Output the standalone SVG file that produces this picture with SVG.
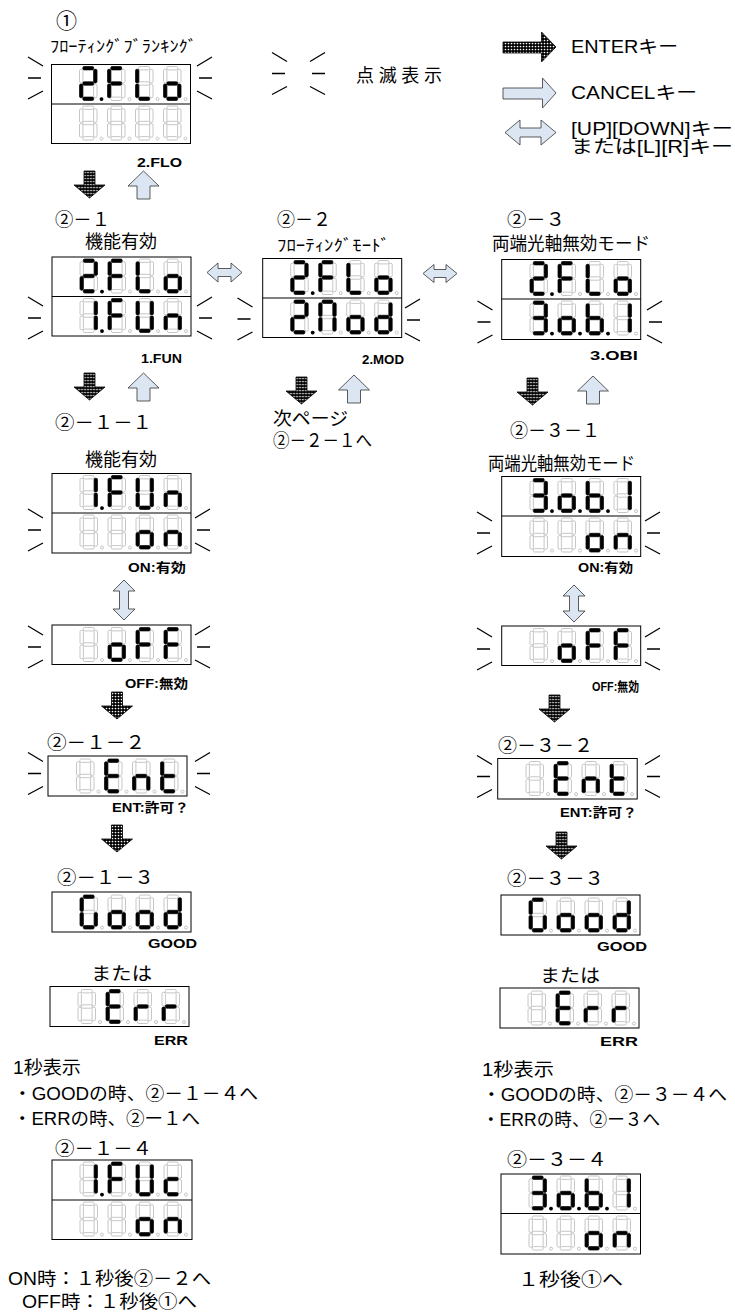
<svg xmlns="http://www.w3.org/2000/svg" xmlns:xlink="http://www.w3.org/1999/xlink" width="735" height="1313" viewBox="0 0 735 1313">
<style>
text{font-family:"Liberation Sans","Noto Sans CJK JP",sans-serif;fill:#000}
.j{font-size:18px}
.s{font-size:13px;font-weight:bold}
.bx{fill:#fff;stroke:#000;stroke-width:1}
.dv{stroke:#000;stroke-width:1}
.lt{fill:#dce6f2;stroke:#333;stroke-width:0.8}
</style>
<defs>
<pattern id="dots" width="3" height="3" patternUnits="userSpaceOnUse"><rect width="3" height="3" fill="#000"/><circle cx="1.5" cy="1.5" r="0.85" fill="#fff"/></pattern>
<rect id="sa" x="3.3" y="0" width="10.9" height="3.4" rx="1.4"/>
<rect id="sb" x="14.1" y="2.8" width="3.4" height="13.6" rx="1.4"/>
<rect id="sc" x="14.1" y="17.6" width="3.4" height="13.6" rx="1.4"/>
<rect id="sd" x="3.3" y="30.6" width="10.9" height="3.4" rx="1.4"/>
<rect id="se" x="0" y="17.6" width="3.4" height="13.6" rx="1.4"/>
<rect id="sf" x="0" y="2.8" width="3.4" height="13.6" rx="1.4"/>
<rect id="sg" x="3.3" y="15.3" width="10.9" height="3.4" rx="1.4"/>
<circle id="sp" cx="22" cy="32.6" r="1.5"/>
<g id="d8" fill="#fff" stroke="#b8b8b8" stroke-width="0.8"><use href="#sa"/><use href="#sb"/><use href="#sc"/><use href="#sd"/><use href="#se"/><use href="#sf"/><use href="#sg"/><use href="#sp"/></g>
<g id="row"><use href="#d8"/><use href="#d8" x="28"/><use href="#d8" x="56"/><use href="#d8" x="84"/></g>
<g id="c2" fill="#000" stroke="#000" stroke-width="0.6"><use href="#sa"/><use href="#sb"/><use href="#sg"/><use href="#se"/><use href="#sd"/></g>
<g id="cF" fill="#000" stroke="#000" stroke-width="0.6"><use href="#sa"/><use href="#sf"/><use href="#sg"/><use href="#se"/></g>
<g id="cL" fill="#000" stroke="#000" stroke-width="0.6"><use href="#sf"/><use href="#se"/><use href="#sd"/></g>
<g id="co" fill="#000" stroke="#000" stroke-width="0.6"><use href="#sg"/><use href="#se"/><use href="#sd"/><use href="#sc"/></g>
<g id="c1" fill="#000" stroke="#000" stroke-width="0.6"><use href="#sb"/><use href="#sc"/></g>
<g id="cU" fill="#000" stroke="#000" stroke-width="0.6"><use href="#sf"/><use href="#se"/><use href="#sd"/><use href="#sc"/><use href="#sb"/></g>
<g id="cn" fill="#000" stroke="#000" stroke-width="0.6"><use href="#sg"/><use href="#se"/><use href="#sc"/></g>
<g id="cN" fill="#000" stroke="#000" stroke-width="0.6"><use href="#sa"/><use href="#sf"/><use href="#sb"/><use href="#se"/><use href="#sc"/></g>
<g id="cd" fill="#000" stroke="#000" stroke-width="0.6"><use href="#sb"/><use href="#sc"/><use href="#sd"/><use href="#se"/><use href="#sg"/></g>
<g id="c3" fill="#000" stroke="#000" stroke-width="0.6"><use href="#sa"/><use href="#sb"/><use href="#sg"/><use href="#sc"/><use href="#sd"/></g>
<g id="cb" fill="#000" stroke="#000" stroke-width="0.6"><use href="#sf"/><use href="#se"/><use href="#sd"/><use href="#sc"/><use href="#sg"/></g>
<g id="cE" fill="#000" stroke="#000" stroke-width="0.6"><use href="#sa"/><use href="#sf"/><use href="#sg"/><use href="#se"/><use href="#sd"/></g>
<g id="ct" fill="#000" stroke="#000" stroke-width="0.6"><use href="#sf"/><use href="#se"/><use href="#sd"/><use href="#sg"/></g>
<g id="cG" fill="#000" stroke="#000" stroke-width="0.6"><use href="#sa"/><use href="#sf"/><use href="#se"/><use href="#sd"/><use href="#sc"/></g>
<g id="cr" fill="#000" stroke="#000" stroke-width="0.6"><use href="#se"/><use href="#sg"/></g>
<g id="cc" fill="#000" stroke="#000" stroke-width="0.6"><use href="#sg"/><use href="#se"/><use href="#sd"/></g>
<circle id="dp" cx="22" cy="32.6" r="1.9" fill="#000"/>
<g id="rFLo"><use href="#row"/><use href="#c2"/><use href="#dp"/><use href="#cF" x="28"/><use href="#cL" x="56"/><use href="#co" x="84"/></g>
<g id="rFUn"><use href="#row"/><use href="#c1"/><use href="#dp"/><use href="#cF" x="28"/><use href="#cU" x="56"/><use href="#cn" x="84"/></g>
<g id="rObI"><use href="#row"/><use href="#c3"/><use href="#dp"/><use href="#co" x="28"/><use href="#dp" x="28"/><use href="#cb" x="56"/><use href="#dp" x="56"/><use href="#c1" x="84"/></g>
<g id="ron"><use href="#row"/><use href="#co" x="56"/><use href="#cn" x="84"/></g>
<g id="roFF"><use href="#row"/><use href="#co" x="28"/><use href="#cF" x="56"/><use href="#cF" x="84"/></g>
<g id="rEnt"><use href="#row"/><use href="#cE" x="28"/><use href="#cn" x="56"/><use href="#ct" x="84"/></g>
<g id="rGood"><use href="#row"/><use href="#cG"/><use href="#co" x="28"/><use href="#co" x="56"/><use href="#cd" x="84"/></g>
<g id="rErr"><use href="#row"/><use href="#cE" x="28"/><use href="#cr" x="56"/><use href="#cr" x="84"/></g>
<path id="bl" d="M0,-21 L15,-12 M0,0 H13 M0,21 L15,13" fill="none" stroke="#000" stroke-width="1.3"/>
<path id="br" d="M0,-12 L15,-21 M2,0 H15 M0,13 L15,21" fill="none" stroke="#000" stroke-width="1.3"/>
<path id="dn" d="M-5.5,0 H5.5 V14 H15.5 L0,27 L-15.5,14 H-5.5 Z" fill="url(#dots)" stroke="#000" stroke-width="0.8"/>
<path id="up" d="M0,0 L15.5,15 H6.5 V28 H-6.5 V15 H-15.5 Z" class="lt"/>
</defs>
<rect width="735" height="1313" fill="#fff"/>

<g id="legend">
<use href="#bl" x="272" y="73.5"/><use href="#br" x="310" y="73.5"/>
<text x="356" y="82" class="j" textLength="86" lengthAdjust="spacing">点滅表示</text>
<path d="M503,42 H541.5 V32 L556,47 L541.5,62 V53 H503 Z" fill="url(#dots)" stroke="#000" stroke-width="0.8"/>
<path d="M503,88 H542.5 V78 L556,93 L542.5,108 V99 H503 Z" class="lt"/>
<path d="M505,132.5 L520,120 V128 H541 V120 L556,132.5 L541,145 V137 H520 V145 Z" class="lt"/>
<text x="571" y="53" class="j" textLength="107" lengthAdjust="spacingAndGlyphs">ENTERキー</text>
<text x="571" y="99" class="j" textLength="126" lengthAdjust="spacingAndGlyphs">CANCELキー</text>
<text x="571" y="135" class="j" textLength="162" lengthAdjust="spacingAndGlyphs">[UP][DOWN]キー</text>
<text x="571" y="153" class="j" textLength="162" lengthAdjust="spacingAndGlyphs">または[L][R]キー</text>
</g>

<g id="n1">
<text x="56" y="28" font-size="21">①</text>
<text x="50" y="52" font-size="16" textLength="147" lengthAdjust="spacingAndGlyphs">ﾌﾛｰﾃｨﾝｸﾞﾌﾞﾗﾝｷﾝｸﾞ</text>
<rect class="bx" x="51.5" y="64.5" width="139" height="79"/><line class="dv" x1="51.5" y1="104" x2="190.5" y2="104"/>
<use href="#rFLo" x="79.5" y="66.5"/><use href="#row" x="79.5" y="106"/>
<use href="#bl" x="28" y="78"/><use href="#br" x="197" y="78"/>
<text x="137" y="167" class="s" textLength="45" lengthAdjust="spacingAndGlyphs">2.FLO</text>
</g>

<g id="n2-1">
<text x="55" y="226" class="j" textLength="55" lengthAdjust="spacingAndGlyphs">②－１</text>
<text x="85" y="248" class="j" textLength="72" lengthAdjust="spacingAndGlyphs">機能有効</text>
<rect class="bx" x="52" y="257" width="139" height="79"/><line class="dv" x1="52" y1="296.5" x2="191" y2="296.5"/>
<use href="#rFLo" x="80" y="259"/><use href="#rFUn" x="80" y="298.5"/>
<use href="#bl" x="28" y="318"/><use href="#br" x="197" y="318"/>
<text x="141" y="363" class="s" textLength="41" lengthAdjust="spacingAndGlyphs">1.FUN</text>
</g>

<g id="n2-2">
<text x="277" y="226" class="j" textLength="54" lengthAdjust="spacingAndGlyphs">②－２</text>
<text x="277" y="251" font-size="16" textLength="113" lengthAdjust="spacingAndGlyphs">ﾌﾛｰﾃｨﾝｸﾞﾓｰﾄﾞ</text>
<rect class="bx" x="262.7" y="258.5" width="139" height="79"/><line class="dv" x1="262.7" y1="298" x2="401.7" y2="298"/>
<use href="#rFLo" x="290.7" y="260.5"/>
<g transform="translate(290.7,300)"><use href="#row"/><use href="#c2"/><use href="#dp"/><use href="#cN" x="28"/><use href="#co" x="56"/><use href="#cd" x="84"/></g>
<use href="#bl" x="237.5" y="319"/><use href="#br" x="405" y="320"/>
<text x="362" y="364" class="s" textLength="42" lengthAdjust="spacingAndGlyphs">2.MOD</text>
<text x="273" y="425" class="j" textLength="75" lengthAdjust="spacingAndGlyphs">次ページ</text>
<text x="273" y="447" class="j" textLength="99" lengthAdjust="spacingAndGlyphs">②－２－１へ</text>
</g>

<g id="n2-3">
<text x="507" y="226" class="j" textLength="58" lengthAdjust="spacingAndGlyphs">②－３</text>
<text x="492" y="250" class="j" textLength="158" lengthAdjust="spacingAndGlyphs">両端光軸無効モード</text>
<rect class="bx" x="501.7" y="259.5" width="139" height="80"/><line class="dv" x1="501.7" y1="299" x2="640.7" y2="299"/>
<use href="#rFLo" x="530" y="261.5"/><use href="#rObI" x="530" y="301"/>
<use href="#bl" x="477.5" y="322"/><use href="#br" x="647" y="322"/>
<text x="590" y="360" class="s" textLength="48" lengthAdjust="spacingAndGlyphs">3.OBI</text>
</g>

<g id="n2-1-1">
<text x="55" y="429" class="j" textLength="97" lengthAdjust="spacingAndGlyphs">②－１－１</text>
<text x="85" y="466" class="j" textLength="72" lengthAdjust="spacingAndGlyphs">機能有効</text>
<rect class="bx" x="52" y="473.5" width="139" height="79.5"/><line class="dv" x1="52" y1="513" x2="191" y2="513"/>
<use href="#rFUn" x="80" y="475.5"/><use href="#ron" x="80" y="515"/>
<use href="#bl" x="28" y="530"/><use href="#br" x="195" y="530"/>
<text x="128" y="572" class="s" textLength="58" lengthAdjust="spacingAndGlyphs">ON:有効</text>
</g>

<g id="n2-1-1off">
<rect class="bx" x="52" y="625" width="139" height="39.5"/>
<use href="#roFF" x="80" y="627.5"/>
<use href="#bl" x="28" y="647"/><use href="#br" x="195" y="647"/>
<text x="125" y="688" class="s" textLength="63" lengthAdjust="spacingAndGlyphs">OFF:無効</text>
</g>

<g id="n2-3-1">
<text x="510" y="437" class="j" textLength="90" lengthAdjust="spacingAndGlyphs">②－３－１</text>
<text x="488" y="470" class="j" textLength="147" lengthAdjust="spacingAndGlyphs">両端光軸無効モード</text>
<rect class="bx" x="501.7" y="476.5" width="139" height="80"/><line class="dv" x1="501.7" y1="516" x2="640.7" y2="516"/>
<use href="#rObI" x="530" y="478.5"/><use href="#ron" x="530" y="518"/>
<use href="#bl" x="477" y="533"/><use href="#br" x="645" y="533"/>
<text x="578" y="572" class="s" textLength="55" lengthAdjust="spacingAndGlyphs">ON:有効</text>
</g>

<g id="n2-3-1off">
<rect class="bx" x="501.7" y="626" width="139" height="39.5"/>
<use href="#roFF" x="530" y="628.5"/>
<use href="#bl" x="477" y="649"/><use href="#br" x="645" y="649"/>
<text x="592" y="691" class="s" textLength="47" lengthAdjust="spacingAndGlyphs">OFF:無効</text>
</g>

<g id="n2-1-2">
<text x="47" y="749" class="j" textLength="98" lengthAdjust="spacingAndGlyphs">②－１－２</text>
<rect class="bx" x="48" y="756" width="139" height="40"/>
<use href="#rEnt" x="76.5" y="759"/>
<use href="#bl" x="28" y="773.5"/><use href="#br" x="195" y="773.5"/>
<text x="112" y="812" class="s" textLength="77" lengthAdjust="spacingAndGlyphs">ENT:許可？</text>
</g>

<g id="n2-3-2">
<text x="498" y="752" class="j" textLength="95" lengthAdjust="spacingAndGlyphs">②－３－２</text>
<rect class="bx" x="497.7" y="758.5" width="139.5" height="40.5"/>
<use href="#rEnt" x="526" y="761.5"/>
<use href="#bl" x="477" y="776.5"/><use href="#br" x="645" y="776.5"/>
<text x="560" y="817" class="s" textLength="77" lengthAdjust="spacingAndGlyphs">ENT:許可？</text>
</g>

<g id="n2-1-3">
<text x="57" y="884" class="j" textLength="97" lengthAdjust="spacingAndGlyphs">②－１－３</text>
<rect class="bx" x="52" y="892" width="139" height="40"/>
<use href="#rGood" x="80" y="895"/>
<text x="148" y="948" class="s" font-size="14" textLength="49" lengthAdjust="spacingAndGlyphs">GOOD</text>
<text x="91" y="980" class="j" font-size="19" textLength="61" lengthAdjust="spacingAndGlyphs">または</text>
<rect class="bx" x="50" y="986.5" width="139" height="40"/>
<use href="#rErr" x="78" y="989.5"/>
<text x="154" y="1045" class="s" textLength="34" lengthAdjust="spacingAndGlyphs">ERR</text>
<text x="13" y="1074" class="j" textLength="68" lengthAdjust="spacingAndGlyphs">1秒表示</text>
<text x="13" y="1100" class="j" textLength="245" lengthAdjust="spacingAndGlyphs">・GOODの時、②－１－４へ</text>
<text x="13" y="1125" class="j" textLength="187" lengthAdjust="spacingAndGlyphs">・ERRの時、②ー１へ</text>
</g>

<g id="n2-3-3">
<text x="507" y="885" class="j" textLength="97" lengthAdjust="spacingAndGlyphs">②－３－３</text>
<rect class="bx" x="501" y="895" width="139" height="40"/>
<use href="#rGood" x="529" y="898"/>
<text x="597" y="951" class="s" font-size="14" textLength="50" lengthAdjust="spacingAndGlyphs">GOOD</text>
<text x="540" y="982" class="j" font-size="19" textLength="60" lengthAdjust="spacingAndGlyphs">または</text>
<rect class="bx" x="500" y="988" width="139" height="40"/>
<use href="#rErr" x="528" y="991"/>
<text x="600" y="1046" class="s" textLength="38" lengthAdjust="spacingAndGlyphs">ERR</text>
<text x="482" y="1076" class="j" textLength="72" lengthAdjust="spacingAndGlyphs">1秒表示</text>
<text x="482" y="1101" class="j" textLength="245" lengthAdjust="spacingAndGlyphs">・GOODの時、②－３－４へ</text>
<text x="482" y="1126" class="j" textLength="178" lengthAdjust="spacingAndGlyphs">・ERRの時、②ー３へ</text>
</g>

<g id="n2-1-4">
<text x="55" y="1155" class="j" textLength="97" lengthAdjust="spacingAndGlyphs">②－１－４</text>
<rect class="bx" x="52" y="1160" width="140" height="79.5"/><line class="dv" x1="52" y1="1200" x2="192" y2="1200"/>
<g transform="translate(80,1162)"><use href="#row"/><use href="#c1"/><use href="#dp"/><use href="#cF" x="28"/><use href="#cU" x="56"/><use href="#cc" x="84"/></g>
<use href="#ron" x="80" y="1202"/>
<text x="8" y="1285" class="j" textLength="203" lengthAdjust="spacingAndGlyphs">ON時：１秒後②－２へ</text>
<text x="22" y="1308" class="j" textLength="175" lengthAdjust="spacingAndGlyphs">OFF時：１秒後①へ</text>
</g>

<g id="n2-3-4">
<text x="507" y="1166" class="j" textLength="100" lengthAdjust="spacingAndGlyphs">②－３－４</text>
<rect class="bx" x="501" y="1174" width="139.5" height="80"/><line class="dv" x1="501" y1="1213.5" x2="640.5" y2="1213.5"/>
<use href="#rObI" x="529" y="1176"/><use href="#ron" x="529" y="1216"/>
<text x="518" y="1286" class="j" textLength="105" lengthAdjust="spacingAndGlyphs">１秒後①へ</text>
</g>

<g id="connectors">
<use href="#dn" x="89.5" y="171"/><use href="#up" x="143.5" y="171"/>
<use href="#dn" x="89.5" y="373"/><use href="#up" x="143.5" y="373"/>
<use href="#dn" x="301.5" y="377"/><use href="#up" x="354" y="375"/>
<use href="#dn" x="532.5" y="378"/><use href="#up" x="593" y="376"/>
<use href="#dn" x="117" y="692"/><use href="#dn" x="117" y="825"/>
<use href="#dn" x="554.5" y="695"/><use href="#dn" x="561.5" y="832"/>
<path class="lt" d="M207,272.5 L218,263 V268.5 H231 V263 L242,272.5 L231,282 V276.5 H218 V282 Z"/>
<path class="lt" d="M423,273.5 L434,264.5 V269.5 H446 V264.5 L457,273.5 L446,282.5 V277.5 H434 V282.5 Z"/>
<path class="lt" d="M124,580 L135,591 H128.5 V609 H135 L124,620 L113,609 H119.5 V591 H113 Z"/>
<path class="lt" d="M574,585 L585,596 H578.5 V611 H585 L574,622 L563,611 H569.5 V596 H563 Z"/>
</g>
</svg>
